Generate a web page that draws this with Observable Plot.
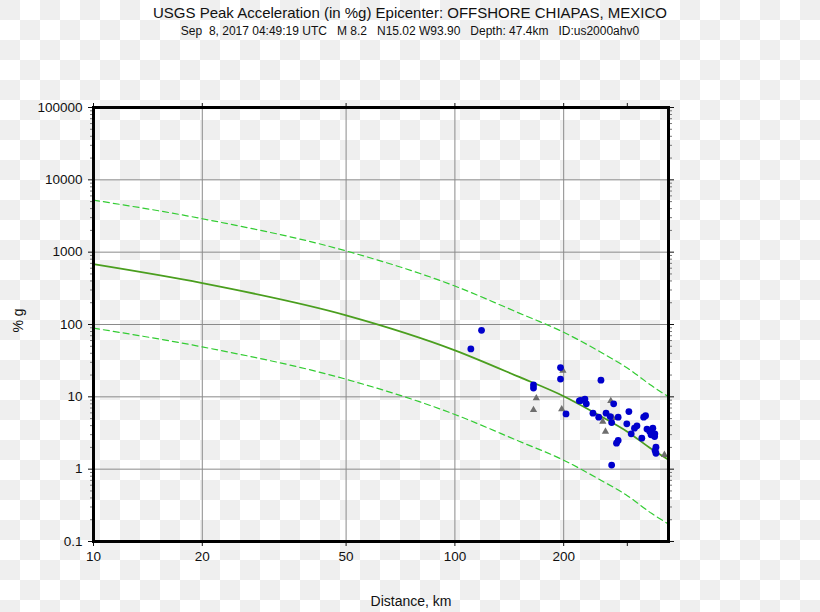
<!DOCTYPE html>
<html>
<head>
<meta charset="utf-8">
<script src="https://cdn.jsdelivr.net/npm/d3@7"></script>
<script src="https://cdn.jsdelivr.net/npm/@observablehq/plot@0.6"></script>
<style>
  html, body { margin: 0; padding: 0; }
  body {
    width: 820px; height: 612px; overflow: hidden;
    background: repeating-conic-gradient(#ffffff 0 25%, #efefef 0 50%) 0 0 / 40px 40px;
    font-family: "Liberation Sans", Arial, Helvetica, sans-serif;
    position: relative;
  }
  #title { position: absolute; left: 0; top: 4px; width: 820px; text-align: center; font-size: 15px; color: #111; white-space: pre; }
  #subtitle { position: absolute; left: 0; top: 24px; width: 820px; text-align: center; font-size: 12px; color: #111; white-space: pre; }
  #chart { position: absolute; left: 0; top: 45px; }
</style>
</head>
<body>
<div id="title">USGS Peak Acceleration (in %g) Epicenter: OFFSHORE CHIAPAS, MEXICO</div>
<div id="subtitle">Sep  8, 2017 04:49:19 UTC   M 8.2   N15.02 W93.90   Depth: 47.4km   ID:us2000ahv0</div>
<div id="chart"></div>
<script>
// Curve sample distances (km) and values (%g)
const curveDist   = [10, 20, 50, 100, 150, 200, 250, 300, 350, 390];
const medianPGA   = [682, 373, 134, 44, 19, 10.2, 5.6, 3.3, 1.9, 1.35];
const upperPGA    = [5240, 2900, 1040, 340, 145, 78, 43, 25, 14.3, 10];
const lowerPGA    = [89, 49, 17.5, 5.7, 2.45, 1.33, 0.73, 0.43, 0.245, 0.174];

// Station observations (blue circles)
const stationDist = [118.5, 110.7, 196, 196, 165, 165, 203, 221, 253.6, 223, 229, 231, 275, 241, 250, 262, 269, 271.5, 283, 303, 299, 314, 319, 307.5, 333, 337, 340, 346, 353, 357.5, 349, 357, 329, 283, 280, 360, 358, 360, 271.5];
const stationPGA  = [83, 46, 25.4, 17.6, 14.6, 13.2, 5.8, 8.8, 17.0, 8.9, 9.3, 8.0, 8.0, 5.95, 5.24, 5.95, 5.34, 4.4, 5.24, 6.26, 4.23, 3.69, 3.97, 3.08, 5.24, 5.49, 3.58, 3.31, 3.69, 3.08, 2.98, 2.82, 2.68, 2.49, 2.29, 2.01, 1.81, 1.66, 1.14];

// Other observations (gray triangles)
const triDist = [168, 165, 199, 197.5, 270, 256.6, 261, 274, 380];
const triPGA  = [9.6, 6.6, 23.1, 6.76, 8.8, 4.55, 3.31, 5.12, 1.58];

// Axis ticks
const xTicks = [10, 20, 50, 100, 200, 300];
const xLabels = ["10", "20", "50", "100", "200", ""];
const xGrid = [20, 50, 100, 200];
const yTicks = [0.1, 1, 10, 100, 1000, 10000, 100000];
const yLabels = ["0.1", "1", "10", "100", "1000", "10000", "100000"];

const curves = curveDist.map((d, i) => ({d, median: medianPGA[i], upper: upperPGA[i], lower: lowerPGA[i]}));
const stations = stationDist.map((d, i) => ({d, v: stationPGA[i]}));
const tris = triDist.map((d, i) => ({d, v: triPGA[i]}));

const yMinor = [];
for (let e = -1; e < 5; e++) for (let m = 2; m <= 9; m++) yMinor.push(m * Math.pow(10, e));

const xLab = d => xLabels[xTicks.indexOf(d)] ?? "";
const yLab = d => yLabels[yTicks.indexOf(d)] ?? "";

const chart = Plot.plot({
  width: 820,
  height: 567,
  marginLeft: 93,
  marginRight: 152,
  marginTop: 62,
  marginBottom: 71,
  style: {background: "transparent", fontFamily: "'Liberation Sans', Arial, sans-serif", fontSize: "13px", color: "#111"},
  x: {type: "log", domain: [10, 390]},
  y: {type: "log", domain: [0.1, 100000]},
  marks: [
    Plot.gridX(xGrid, {stroke: "#8a8a8a", strokeOpacity: 1, strokeWidth: 1}),
    Plot.gridY(yTicks, {stroke: "#8a8a8a", strokeOpacity: 1, strokeWidth: 1}),
    Plot.line(curves, {x: "d", y: "upper", stroke: "#33cc33", strokeWidth: 1.2, strokeDasharray: "6,4", curve: "monotone-x"}),
    Plot.line(curves, {x: "d", y: "lower", stroke: "#33cc33", strokeWidth: 1.2, strokeDasharray: "6,4", curve: "monotone-x"}),
    Plot.line(curves, {x: "d", y: "median", stroke: "#4a9e1e", strokeWidth: 1.8, curve: "monotone-x"}),
    Plot.dot(tris, {x: "d", y: "v", symbol: "triangle", r: 2.7, fill: "#6e6e6e", stroke: "none"}),
    Plot.dot(stations, {x: "d", y: "v", r: 3.4, fill: "#0000cc", stroke: "none"}),
    Plot.axisX(xTicks, {anchor: "bottom", tickSize: 5, tickPadding: 5, tickFormat: xLab, fontSize: 13.5, label: null}),
    Plot.axisX(xTicks, {anchor: "top", tickSize: 5, tickFormat: () => "", label: null}),
    Plot.axisY(yTicks, {anchor: "left", tickSize: 5, tickPadding: 6, tickFormat: yLab, fontSize: 13.5, label: null}),
    Plot.axisY(yMinor, {anchor: "left", tickSize: 3, tickFormat: () => "", label: null, stroke: "#777"}),
    Plot.axisY(yTicks, {anchor: "right", tickSize: 5, tickFormat: () => "", label: null}),
    Plot.axisY(yMinor, {anchor: "right", tickSize: 3, tickFormat: () => "", label: null, stroke: "#777"}),
    Plot.frame({stroke: "#000", strokeWidth: 3}),
    Plot.text(["Distance, km"], {frameAnchor: "bottom", dx: 30, dy: 64, fontSize: 14, fill: "#111"}),
    Plot.text(["% g"], {frameAnchor: "left", dx: -75, dy: 8, rotate: -90, fontSize: 14, fill: "#111"})
  ]
});
document.getElementById("chart").appendChild(chart);
</script>
</body>
</html>
